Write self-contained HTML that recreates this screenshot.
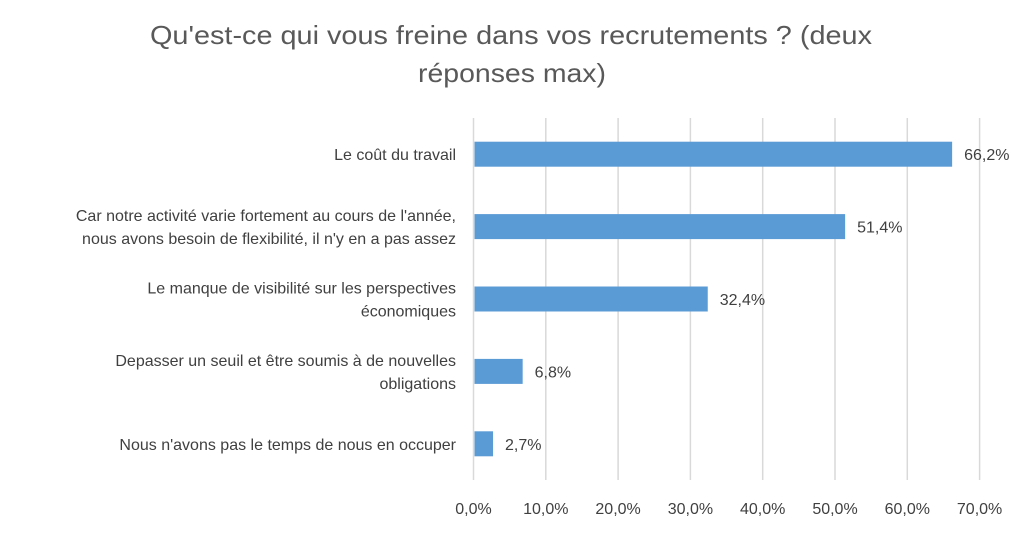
<!DOCTYPE html>
<html><head><meta charset="utf-8"><style>
body{margin:0;background:#fff;width:1024px;height:529px;overflow:hidden;font-family:"Liberation Sans",sans-serif;}
</style></head><body>
<svg width="1024" height="529" id="c">
<text x="150" y="44" textLength="722" lengthAdjust="spacingAndGlyphs" font-size="26" fill="#595959">Qu'est-ce qui vous freine dans vos recrutements ? (deux</text>
<text x="418" y="82" textLength="188" lengthAdjust="spacingAndGlyphs" font-size="26" fill="#595959">réponses max)</text>
</svg>
<script>
const categories=[["Le coût du travail"],["Car notre activité varie fortement au cours de l'année,","nous avons besoin de flexibilité, il n'y en a pas assez"],["Le manque de visibilité sur les perspectives","économiques"],["Depasser un seuil et être soumis à de nouvelles","obligations"],["Nous n'avons pas le temps de nous en occuper"]];
const values=[66.2,51.4,32.4,6.8,2.7];
const valueLabels=["66,2%","51,4%","32,4%","6,8%","2,7%"];
const ticks=[0,10,20,30,40,50,60,70];
const tickLabels=["0,0%","10,0%","20,0%","30,0%","40,0%","50,0%","60,0%","70,0%"];
const svg=document.getElementById('c');const NS='http://www.w3.org/2000/svg';
const x0=473.5,pxPer=7.23,topY=118,bottomY=480;
const band=(bottomY-topY)/categories.length;
const X=v=>x0+v*pxPer;const Y=i=>topY+band*(i+0.5);
function mk(t,a){const e=document.createElementNS(NS,t);for(const k in a)e.setAttribute(k,a[k]);svg.appendChild(e);return e;}
ticks.forEach((t,i)=>{
const g=mk('line',{x1:X(t),x2:X(t),y1:topY,y2:bottomY,stroke:'#d9d9d9','stroke-width':1.5});


const l=mk('text',{x:X(t),y:514,'text-anchor':'middle','font-size':16,fill:'#404040'});l.textContent=tickLabels[i];


});
values.forEach((v,i)=>{
const b=mk('rect',{x:X(0)+1,y:Y(i)-12.5,width:X(v)-X(0)-1,height:25,fill:'#5b9bd5'});


const t=mk('text',{x:X(v)+12,y:Y(i)+6,'font-size':16,fill:'#404040'});t.textContent=valueLabels[i];


const lines=categories[i];
lines.forEach((s,j)=>{
const c=mk('text',{x:456,y:Y(i)+6+(j-(lines.length-1)/2)*23,'text-anchor':'end','font-size':16,fill:'#404040'});c.textContent=s;


});
});
</script>
</body></html>
